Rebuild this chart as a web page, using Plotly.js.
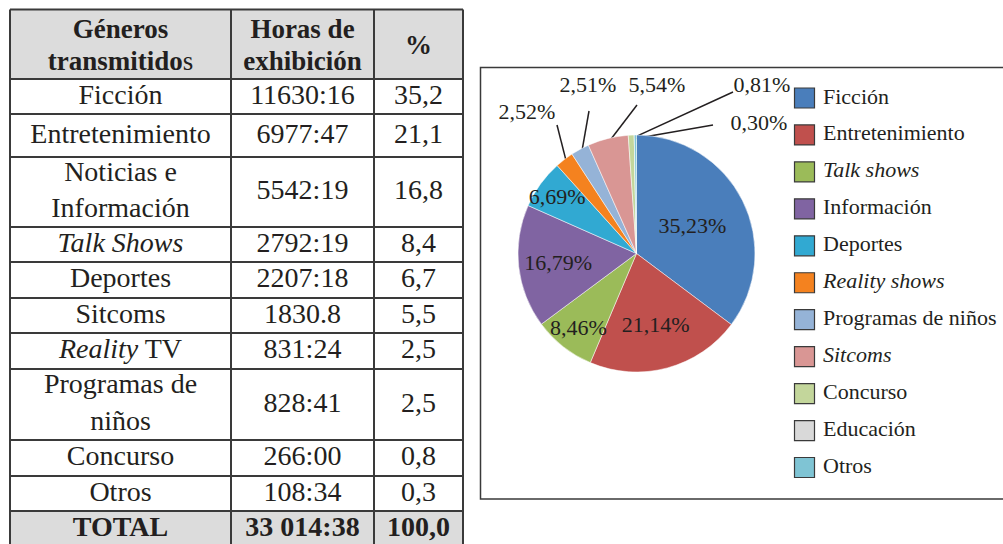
<!DOCTYPE html>
<html>
<head>
<meta charset="utf-8">
<script src="https://cdn.plot.ly/plotly-3.0.1.min.js"></script>
<style>html,body{margin:0;padding:0;background:#fff;}#chart{width:1003px;height:544px;}</style>
</head>
<body>
<div id="chart"></div>
<script>
// ---------- DATA ----------
const tableHeaders = ['<b>Géneros</b><br><b>transmitido</b>s', '<b>Horas de</b><br><b>exhibición</b>', '<b>%</b>'];
const genres = ['Ficción', 'Entretenimiento', 'Noticias e<br>Información', '<i>Talk Shows</i>', 'Deportes', 'Sitcoms', '<i>Reality</i> TV', 'Programas de<br>niños', 'Concurso', 'Otros'];
const hours = ['11630:16', '6977:47', '5542:19', '2792:19', '2207:18', '1830.8', '831:24', '828:41', '266:00', '108:34'];
const percents = ['35,2', '21,1', '16,8', '8,4', '6,7', '5,5', '2,5', '2,5', '0,8', '0,3'];
const totals = ['<b>TOTAL</b>', '<b>33 014:38</b>', '<b>100,0</b>'];

const pieLabels = ['Ficción', 'Entretenimiento', '<i>Talk shows</i>', 'Información', 'Deportes', '<i>Reality shows</i>', 'Programas de niños', '<i>Sitcoms</i>', 'Concurso', 'Educación', 'Otros'];
const pieValues = [35.23, 21.14, 8.46, 16.79, 6.69, 2.52, 2.51, 5.54, 0.81, 0, 0.30];
const pieColors = ['#4a7ebb', '#c0504d', '#9bbb59', '#8064a2', '#31a9d2', '#f4821f', '#95b3d7', '#d99694', '#c3d69b', '#d9d9d9', '#7fc4d4'];

// ---------- LAYOUT CONSTANTS ----------
const W = 1003, H = 544;
const ink = '#231f20';
const serif = 'Liberation Serif, Times New Roman, serif';
const tableLeft = 10, tableTop = 9.5;
const colWidths = [221, 143, 89];
const rowHeights = [69.5, 35, 43, 70, 35, 36, 35, 36, 71, 36, 35, 36];
const headerLineGap = 32;
const pieBox = {x0: 518, x1: 755, y0: 135, y1: 372};          // pie domain, pixels
const insideLimit = 6;                                         // slices above this % labelled inside
// outside label placement (pixels): label centre and leader-line end
const outsideLabelPos = {
  5: {tx: 527, ty: 113, lx: 557, ly: 125},
  6: {tx: 588, ty: 86,  lx: 589, ly: 111},
  7: {tx: 657, ty: 86,  lx: 637, ly: 105},
  8: {tx: 762, ty: 86,  lx: 733, ly: 92},
  10: {tx: 759, ty: 124, lx: 713, ly: 125}
};
const legendBox = {x: 804.5, textX: 823, y0: 98, step: 36.95};

// ---------- TABLE ----------
const xEdges = [tableLeft];
colWidths.forEach(w => xEdges.push(xEdges[xEdges.length - 1] + w));
const yEdges = [tableTop];
rowHeights.forEach(h => yEdges.push(yEdges[yEdges.length - 1] + h));

const columns = [genres, hours, percents];
const bodyRows = genres.map((g, i) => columns.map(c => c[i]));
bodyRows.push(totals);

const hx = [], hy = [], ht = [];
tableHeaders.forEach((cell, ci) => {
  const cx = (xEdges[ci] + xEdges[ci + 1]) / 2;
  const cy = (yEdges[0] + yEdges[1]) / 2 + 3;
  const lines = cell.split('<br>');
  lines.forEach((ln, li) => {
    hx.push(cx); hy.push(cy + (li - (lines.length - 1) / 2) * headerLineGap); ht.push(ln);
  });
});
const bx = [], by = [], bt = [];
bodyRows.forEach((r, ri) => {
  const cy = (yEdges[ri + 1] + yEdges[ri + 2]) / 2;
  r.forEach((cell, ci) => {
    bx.push((xEdges[ci] + xEdges[ci + 1]) / 2); by.push(cy); bt.push(cell);
  });
});

const shapes = [];
[0, rowHeights.length - 1].forEach(ri => {
  shapes.push({type: 'rect', xref: 'x', yref: 'y', x0: xEdges[0], x1: xEdges[xEdges.length - 1],
    y0: yEdges[ri], y1: yEdges[ri + 1], fillcolor: '#dcdcdc', line: {width: 0}, layer: 'below'});
});
yEdges.forEach(y => shapes.push({type: 'line', xref: 'x', yref: 'y', x0: xEdges[0], x1: xEdges[xEdges.length - 1], y0: y, y1: y,
  line: {color: '#3a3a3a', width: 2}}));
xEdges.forEach(x => shapes.push({type: 'line', xref: 'x', yref: 'y', x0: x, x1: x, y0: yEdges[0], y1: yEdges[yEdges.length - 1],
  line: {color: '#3a3a3a', width: 2}}));
// chart frame
shapes.push({type: 'rect', xref: 'x', yref: 'y', x0: 480.5, x1: 1012, y0: 67.5, y1: 499,
  line: {color: '#3a3a3a', width: 1.5}, fillcolor: 'rgba(0,0,0,0)'});

const headerText = {
  type: 'scatter', mode: 'text', x: hx, y: hy, text: ht, textposition: 'middle center', cliponaxis: false,
  textfont: {family: serif, size: 27, color: ink}, hoverinfo: 'skip', showlegend: false
};
const bodyText = {
  type: 'scatter', mode: 'text', x: bx, y: by, text: bt, textposition: 'middle center', cliponaxis: false,
  textfont: {family: serif, size: 28, color: ink}, hoverinfo: 'skip', showlegend: false
};

// ---------- PIE ----------
const pctText = pieValues.map(v => v.toFixed(2).replace('.', ',') + '%');
const pie = {
  type: 'pie', sort: false, direction: 'clockwise', rotation: 0,
  labels: pieLabels, values: pieValues, text: pctText, textinfo: 'text',
  textposition: pieValues.map(v => v > insideLimit ? 'inside' : 'none'),
  insidetextorientation: 'horizontal',
  insidetextfont: {family: serif, size: 22, color: ink},
  marker: {colors: pieColors, line: {color: '#ffffff', width: 0.5}},
  domain: {x: [pieBox.x0 / W, pieBox.x1 / W], y: [1 - pieBox.y1 / H, 1 - pieBox.y0 / H]},
  showlegend: false, hoverinfo: 'label+text'
};

// leader lines from each small slice (mid-angle, near the rim) to its label
const cx0 = (pieBox.x0 + pieBox.x1) / 2, cy0 = (pieBox.y0 + pieBox.y1) / 2, R = (pieBox.x1 - pieBox.x0) / 2;
const total = pieValues.reduce((a, b) => a + b, 0);
let cum = 0;
const lineX = [], lineY = [], labX = [], labY = [], labT = [];
pieValues.forEach((v, i) => {
  const mid = (cum + v / 2) / total * 2 * Math.PI;
  cum += v;
  const pos = outsideLabelPos[i];
  if (!pos) return;
  lineX.push(cx0 + 0.97 * R * Math.sin(mid), pos.lx, null);
  lineY.push(cy0 - 0.97 * R * Math.cos(mid), pos.ly, null);
  labX.push(pos.tx); labY.push(pos.ty); labT.push(pctText[i]);
});
const leaders = {type: 'scatter', mode: 'lines', x: lineX, y: lineY, line: {color: ink, width: 1.5},
  hoverinfo: 'skip', showlegend: false, cliponaxis: false};
const outsideLabels = {type: 'scatter', mode: 'text', x: labX, y: labY, text: labT, textposition: 'middle center',
  textfont: {family: serif, size: 22, color: ink}, hoverinfo: 'skip', showlegend: false, cliponaxis: false};

// ---------- LEGEND (swatches + names) ----------
const legY = pieLabels.map((l, i) => legendBox.y0 + i * legendBox.step);
const legendSwatches = {type: 'scatter', mode: 'markers', x: pieLabels.map(() => legendBox.x), y: legY,
  marker: {symbol: 'square', size: 20, color: pieColors, line: {color: '#3a3a3a', width: 1.2}},
  hoverinfo: 'skip', showlegend: false, cliponaxis: false};
const legendNames = {type: 'scatter', mode: 'text', x: pieLabels.map(() => legendBox.textX), y: legY, text: pieLabels,
  textposition: 'middle right', textfont: {family: serif, size: 22, color: ink}, hoverinfo: 'skip', showlegend: false, cliponaxis: false};

const layout = {
  width: W, height: H,
  margin: {l: 0, r: 0, t: 0, b: 0},
  paper_bgcolor: '#ffffff', plot_bgcolor: 'rgba(0,0,0,0)',
  font: {family: serif, color: ink},
  xaxis: {range: [0, W], domain: [0, 1], visible: false, fixedrange: true},
  yaxis: {range: [H, 0], domain: [0, 1], visible: false, fixedrange: true},
  uniformtext: {mode: 'show', minsize: 22},
  showlegend: false,
  shapes: shapes
};

Plotly.newPlot('chart', [headerText, bodyText, pie, leaders, outsideLabels, legendSwatches, legendNames], layout,
  {displayModeBar: false, staticPlot: true});
</script>
</body>
</html>
